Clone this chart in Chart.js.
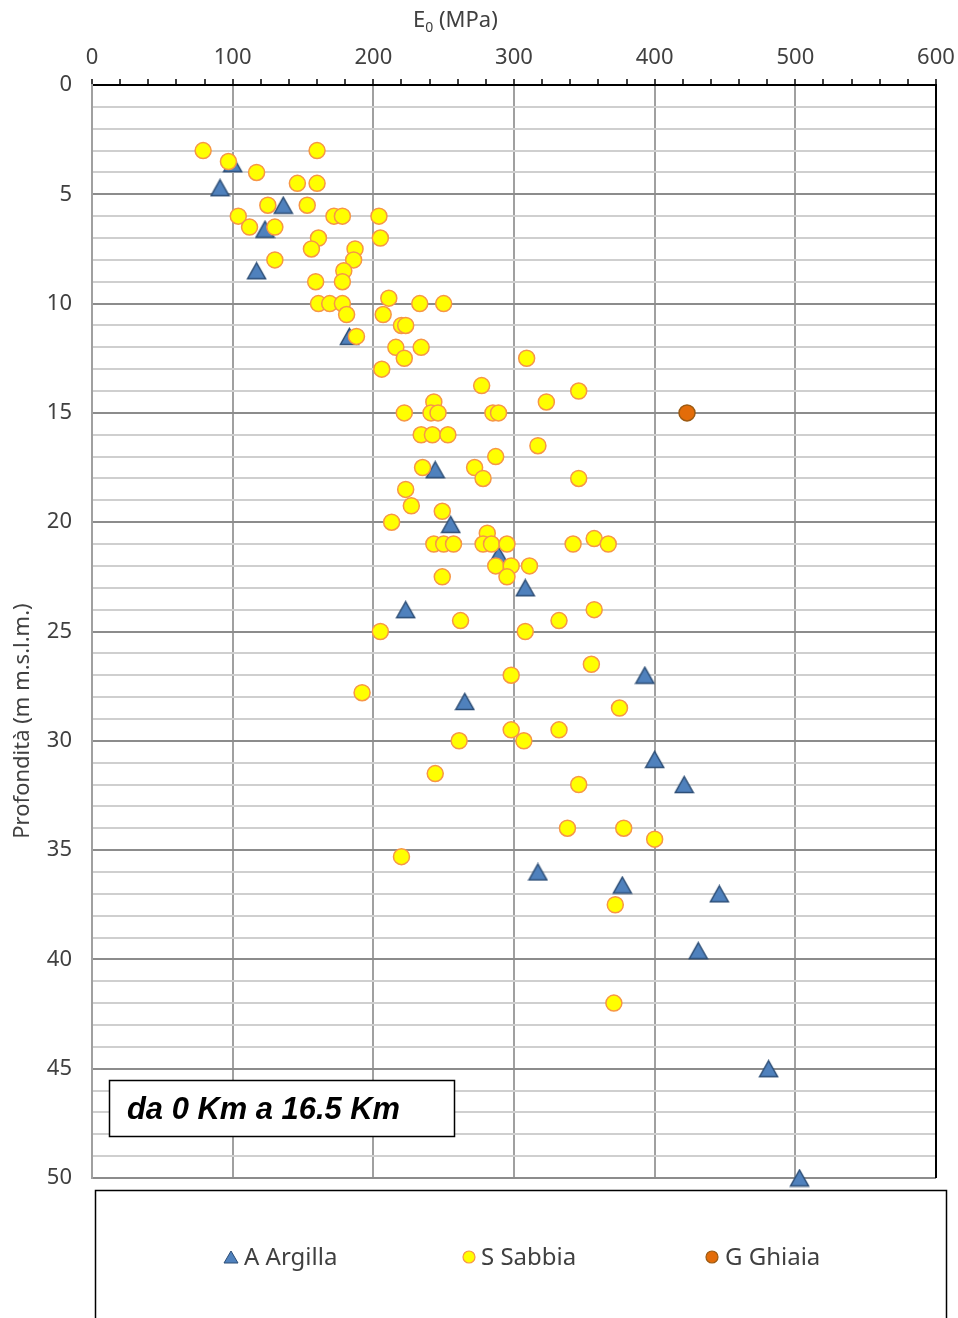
<!DOCTYPE html>
<html>
<head>
<meta charset="utf-8">
<script src="https://cdn.jsdelivr.net/npm/chart.js@4.4.1/dist/chart.umd.min.js"></script>
<style>
  html, body { margin: 0; padding: 0; background: #fff; }
  canvas { display: block; }
</style>
</head>
<body>
<canvas id="chart-e0" width="958" height="1318"></canvas>
<script>
// [E0 (MPa), profondità (m)]
const argilla = [
  [100, 3.6], [91, 4.7], [136, 5.5], [123, 6.6], [117, 8.5], [183, 11.5],
  [244, 17.6], [255, 20.1], [289, 21.5], [308, 23], [223, 24], [393, 27],
  [265, 28.2], [400, 30.85], [421, 32], [317, 36], [377, 36.6], [446, 37],
  [431, 39.6], [481, 45], [503, 50]
];
const sabbia = [
  [79, 3], [160, 3], [97, 3.5], [117, 4], [146, 4.5], [160, 4.5],
  [153, 5.5], [125, 5.5], [104, 6], [172, 6], [178, 6], [204, 6],
  [112, 6.5], [130, 6.5], [161, 7], [205, 7], [156, 7.5], [187, 7.5],
  [186, 8], [130, 8], [179, 8.5], [159, 9], [178, 9], [211, 9.75],
  [161, 10], [169, 10], [178, 10], [233, 10], [250, 10], [181, 10.5],
  [207, 10.5], [220, 11], [223, 11], [188, 11.5], [216, 12], [234, 12],
  [222, 12.5], [309, 12.5], [206, 13], [277, 13.75], [346, 14], [323, 14.5],
  [243, 14.5], [222, 15], [241, 15], [246, 15], [285, 15], [289, 15],
  [234, 16], [242, 16], [253, 16], [317, 16.5], [287, 17], [235, 17.5],
  [272, 17.5], [278, 18], [346, 18], [223, 18.5], [227, 19.25], [249, 19.5],
  [213, 20], [281, 20.5], [357, 20.75], [243, 21], [250, 21], [257, 21],
  [278, 21], [284, 21], [295, 21], [342, 21], [367, 21], [287, 22],
  [298, 22], [311, 22], [249, 22.5], [295, 22.5], [357, 24], [262, 24.5],
  [332, 24.5], [205, 25], [308, 25], [355, 26.5], [298, 27], [192, 27.8],
  [375, 28.5], [298, 29.5], [332, 29.5], [261, 30], [307, 30], [244, 31.5],
  [346, 32], [338, 34], [378, 34], [400, 34.5], [220, 35.3], [372, 37.5],
  [371, 42]
];
const ghiaia = [[423, 15]];

const xTicks = [0, 100, 200, 300, 400, 500, 600];
const yTicks = [0, 5, 10, 15, 20, 25, 30, 35, 40, 45, 50];
const seriesNames = ['A Argilla', 'S Sabbia', 'G Ghiaia'];
const boxLabel = 'da 0 Km a 16.5 Km';

const toPoints = arr => arr.map(p => ({ x: p[0], y: p[1] }));

// triangolo blu stile Excel, centrato sul punto
function makeTriangle(w, h) {
  const c = document.createElement('canvas');
  c.width = w + 3;
  c.height = h + 3;
  const g = c.getContext('2d');
  g.beginPath();
  g.moveTo(c.width / 2, 1.5);
  g.lineTo(c.width - 1.5, c.height - 1.5);
  g.lineTo(1.5, c.height - 1.5);
  g.closePath();
  g.fillStyle = '#4F81BD';
  g.fill();
  g.lineWidth = 1.5;
  g.strokeStyle = '#2C4D75';
  g.stroke();
  return c;
}
const triMarker = makeTriangle(18, 16);

const tickFont = { family: 'Noto Sans', size: 22 };
const txtColor = '#404040';

const extras = {
  id: 'extras',
  beforeDraw(chart) {
    const c = chart.ctx;
    c.save();
    c.fillStyle = '#fff';
    c.fillRect(0, 0, chart.width, chart.height);
    c.restore();
  },
  afterDraw(chart) {
    const c = chart.ctx;
    const a = chart.chartArea;
    c.save();

    // bordo destro
    c.strokeStyle = '#000';
    c.lineWidth = 2;
    c.beginPath();
    c.moveTo(a.right, a.top - 1);
    c.lineTo(a.right, a.bottom);
    c.stroke();

    // titolo asse x con pedice
    c.fillStyle = txtColor;
    c.textBaseline = 'alphabetic';
    c.textAlign = 'left';
    c.font = '22px "Noto Sans"';
    let x = 413;
    c.fillText('E', x, 27);
    x += c.measureText('E').width;
    c.font = '14px "Noto Sans"';
    c.fillText('0', x, 32);
    x += c.measureText('0').width;
    c.font = '22px "Noto Sans"';
    c.fillText(' (MPa)', x, 27);

    // titolo asse y
    c.save();
    c.translate(29, 721);
    c.rotate(-Math.PI / 2);
    c.textAlign = 'center';
    c.fillText('Profondità (m m.s.l.m.)', 0, 0);
    c.restore();

    // riquadro con tratta
    c.fillStyle = '#fff';
    c.fillRect(109, 1080, 345, 56);
    c.strokeStyle = '#000';
    c.lineWidth = 1.5;
    c.strokeRect(109.5, 1080.5, 345, 56);
    c.fillStyle = '#000';
    c.font = 'italic bold 32px "Liberation Sans"';
    const tw = c.measureText(boxLabel).width;
    c.save();
    c.translate(127, 1119);
    c.scale(273 / tw, 1);
    c.fillText(boxLabel, 0, 0);
    c.restore();

    // legenda
    c.strokeStyle = '#000';
    c.lineWidth = 1.5;
    c.strokeRect(95.5, 1190.5, 851, 140);
    const ly = 1258;
    c.font = '24px "Noto Sans"';
    c.textBaseline = 'middle';
    c.fillStyle = txtColor;

    c.beginPath();
    c.moveTo(231, ly - 7);
    c.lineTo(238, ly + 5);
    c.lineTo(224, ly + 5);
    c.closePath();
    c.fillStyle = '#4F81BD';
    c.fill();
    c.lineWidth = 1;
    c.strokeStyle = '#2C4D75';
    c.stroke();
    c.fillStyle = txtColor;
    c.fillText(seriesNames[0], 244, ly);

    c.beginPath();
    c.arc(469, ly - 1, 6, 0, Math.PI * 2);
    c.fillStyle = '#FFFF00';
    c.fill();
    c.strokeStyle = '#F79646';
    c.lineWidth = 1.2;
    c.stroke();
    c.fillStyle = txtColor;
    c.fillText(seriesNames[1], 481, ly);

    c.beginPath();
    c.arc(712, ly - 1, 6, 0, Math.PI * 2);
    c.fillStyle = '#E36C09';
    c.fill();
    c.strokeStyle = '#9C5A12';
    c.stroke();
    c.fillStyle = txtColor;
    c.fillText(seriesNames[2], 725, ly);

    c.restore();
  }
};

new Chart(document.getElementById('chart-e0'), {
  type: 'scatter',
  data: {
    datasets: [
      {
        label: seriesNames[0],
        data: toPoints(argilla),
        pointStyle: triMarker,
        pointRadius: 9,
        order: 2,
        clip: false
      },
      {
        label: seriesNames[1],
        data: toPoints(sabbia),
        pointStyle: 'circle',
        pointRadius: 8,
        backgroundColor: '#FFFF00',
        borderColor: '#F79646',
        borderWidth: 1.5,
        order: 1,
        clip: false
      },
      {
        label: seriesNames[2],
        data: toPoints(ghiaia),
        pointStyle: 'circle',
        pointRadius: 8,
        backgroundColor: '#E36C09',
        borderColor: '#9C5A12',
        borderWidth: 1.5,
        order: 0,
        clip: false
      }
    ]
  },
  options: {
    responsive: false,
    animation: false,
    events: [],
    layout: { padding: { left: 0, top: 0, right: 22, bottom: 140 } },
    plugins: {
      legend: { display: false },
      title: { display: false },
      tooltip: { enabled: false }
    },
    scales: {
      x: {
        type: 'linear',
        position: 'top',
        min: xTicks[0],
        max: xTicks[xTicks.length - 1],
        afterFit: s => {
          s.height = 85;
          s.paddingLeft = 0;
          s.paddingRight = 0;
        },
        afterBuildTicks: s => {
          const t = [];
          for (let v = xTicks[0]; v <= xTicks[xTicks.length - 1]; v += 20) t.push({ value: v });
          s.ticks = t;
        },
        ticks: {
          autoSkip: false,
          maxRotation: 0,
          padding: 8,
          color: txtColor,
          font: tickFont,
          callback: v => (xTicks.includes(v) ? String(v) : '')
        },
        grid: {
          color: c => (c.tick && xTicks.includes(c.tick.value) ? '#A0A0A0' : 'rgba(0,0,0,0)'),
          lineWidth: 2,
          drawTicks: true,
          tickLength: 6,
          tickColor: '#000',
          tickWidth: 1.5
        },
        border: { display: true, color: '#000', width: 2 }
      },
      y: {
        type: 'linear',
        reverse: true,
        min: yTicks[0],
        max: yTicks[yTicks.length - 1],
        afterFit: s => {
          s.width = 92;
          s.paddingTop = 0;
          s.paddingBottom = 0;
        },
        afterBuildTicks: s => {
          const t = [];
          for (let v = yTicks[0]; v <= yTicks[yTicks.length - 1]; v += 1) t.push({ value: v });
          s.ticks = t;
        },
        ticks: {
          autoSkip: false,
          padding: 20,
          color: txtColor,
          font: tickFont,
          callback: v => (yTicks.includes(v) ? String(v) : '')
        },
        grid: {
          color: c => (c.tick && yTicks.includes(c.tick.value) ? '#8C8C8C' : '#CFCFCF'),
          lineWidth: 2,
          drawTicks: false
        },
        border: { display: true, color: '#A0A0A0', width: 2 }
      }
    }
  },
  plugins: [extras]
});
</script>
</body>
</html>
